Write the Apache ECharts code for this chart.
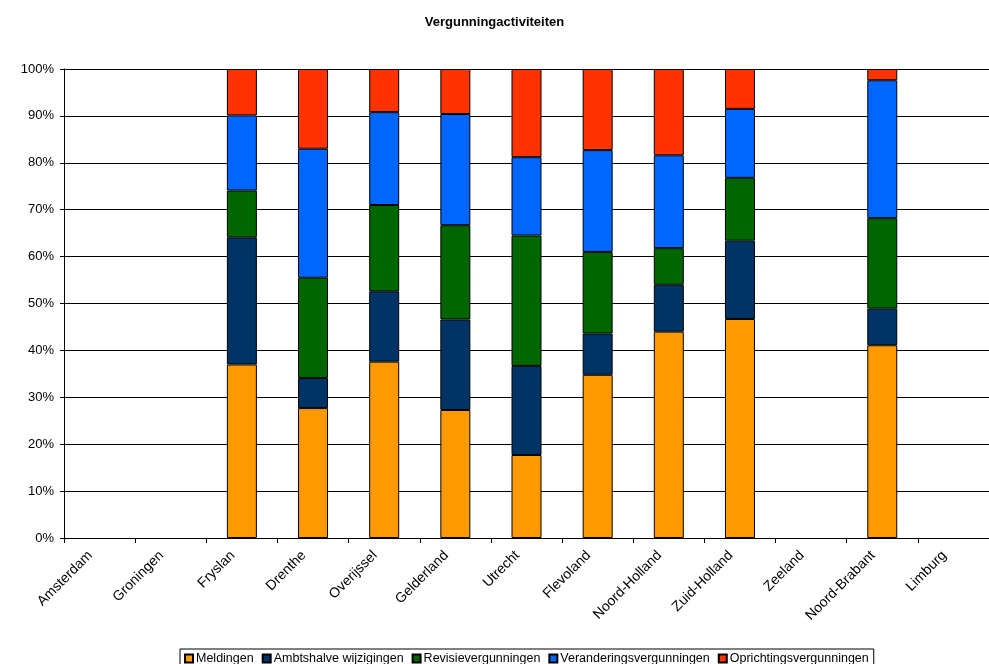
<!DOCTYPE html>
<html>
<head>
<meta charset="utf-8">
<title>Vergunningactiviteiten</title>
<script src="https://cdn.jsdelivr.net/npm/echarts@6/dist/echarts.min.js"></script>
<style>
  html, body { margin: 0; padding: 0; background: #fff; }
  #chart { width: 989px; height: 664px; }
</style>
</head>
<body>
<div id="chart"></div>
<script>
// provincies (x-as)
const categories = ['Amsterdam', 'Groningen', 'Fryslan', 'Drenthe', 'Overijssel', 'Gelderland', 'Utrecht',
  'Flevoland', 'Noord-Holland', 'Zuid-Holland', 'Zeeland', 'Noord-Brabant', 'Limburg'];

const meldingen      = [null, null, 37.0, 27.7, 37.6, 27.3, 17.7, 34.8, 44.0, 46.7, null, 41.1, null];
const ambtshalve     = [null, null, 27.1,  6.4, 15.0, 19.3, 19.0,  8.8, 10.0, 16.7, null,  7.8, null];
const revisie        = [null, null, 10.0, 21.4, 18.4, 20.1, 27.8, 17.4,  7.8, 13.4, null, 19.3, null];
const verandering    = [null, null, 16.0, 27.5, 19.8, 23.7, 16.7, 21.7, 19.8, 14.7, null, 29.4, null];
const oprichting     = [null, null,  9.9, 17.0,  9.2,  9.6, 18.8, 17.3, 18.4,  8.5, null,  2.4, null];

const yTicks = [0, 10, 20, 30, 40, 50, 60, 70, 80, 90, 100];

const seriesDefs = [
  { name: 'Meldingen', data: meldingen, color: '#ff9900' },
  { name: 'Ambtshalve wijzigingen', data: ambtshalve, color: '#003366' },
  { name: 'Revisievergunningen', data: revisie, color: '#006600' },
  { name: 'Veranderingsvergunningen', data: verandering, color: '#0066ff' },
  { name: 'Oprichtingsvergunningen', data: oprichting, color: '#ff3300' },
];

const font = 'Arial, "Liberation Sans", sans-serif';

const option = {
  backgroundColor: '#fff',
  animation: false,
  title: {
    text: 'Vergunningactiviteiten',
    left: 'center',
    top: 11,
    textStyle: { fontFamily: font, fontSize: 13, fontWeight: 'bold', color: '#000' },
  },
  legend: {
    top: 649,
    left: 180,
    itemWidth: 8,
    itemHeight: 8,
    itemGap: 8,
    padding: [3, 5, 6, 4],
    borderColor: '#000',
    borderWidth: 1,
    icon: 'rect',
    textStyle: { fontFamily: font, fontSize: 12.5, color: '#000', padding: [0, 0, 0, -2] },
    data: seriesDefs.map((s) => s.name),
  },
  grid: { left: 64, top: 69, width: 929, height: 469 },
  xAxis: {
    type: 'category',
    data: categories,
    boundaryGap: true,
    axisLine: { lineStyle: { color: '#000', width: 1 } },
    axisTick: { show: true, length: 5, interval: 0, lineStyle: { color: '#000' } },
    axisLabel: {
      interval: 0,
      rotate: 45,
      margin: 6,
      padding: [0, 13, 0, 0],
      fontFamily: font,
      fontSize: 14,
      color: '#000',
    },
  },
  yAxis: {
    type: 'value',
    min: yTicks[0],
    max: yTicks[yTicks.length - 1],
    interval: 10,
    axisLine: { show: true, lineStyle: { color: '#000', width: 1 } },
    axisTick: { show: true, length: 4, lineStyle: { color: '#000' } },
    axisLabel: {
      margin: 10,
      formatter: '{value}%',
      fontFamily: font,
      fontSize: 13,
      color: '#000',
    },
    splitLine: { show: true, lineStyle: { color: '#000', width: 1 } },
  },
  series: seriesDefs.map((s) => ({
    name: s.name,
    type: 'bar',
    stack: 'totaal',
    barWidth: 30,
    data: s.data,
    itemStyle: { color: s.color, borderColor: '#000', borderWidth: 1 },
    emphasis: { disabled: true },
  })),
};

const myChart = echarts.init(document.getElementById('chart'));
myChart.setOption(option);
</script>
</body>
</html>
